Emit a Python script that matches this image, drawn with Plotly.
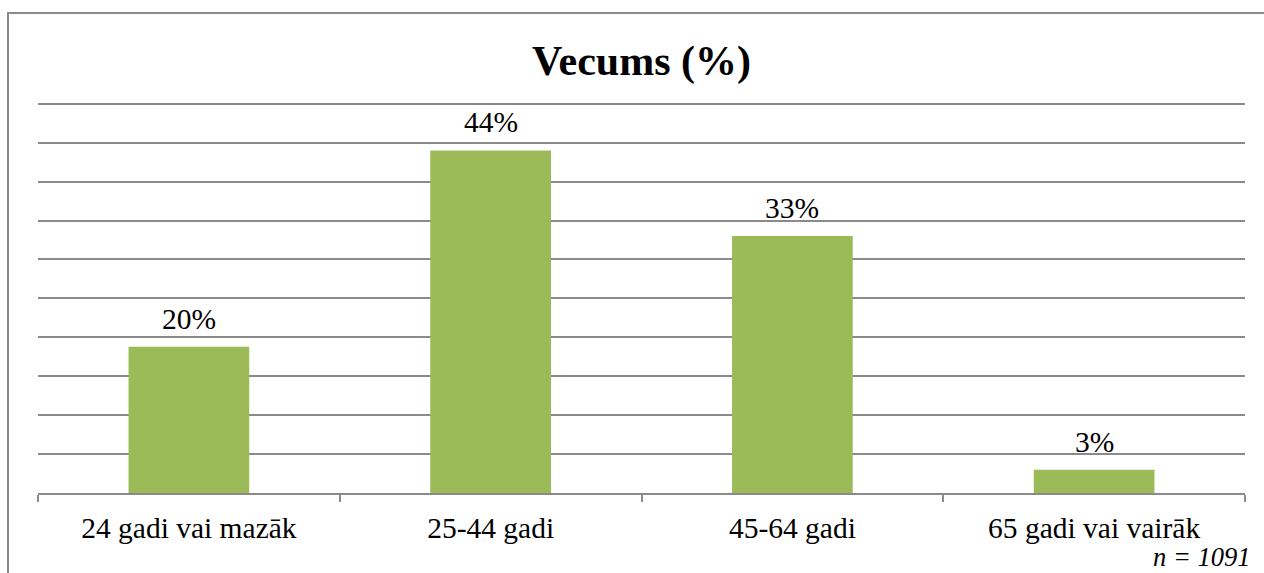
import plotly.graph_objects as go

categories = ["24 gadi vai mazāk", "25-44 gadi", "45-64 gadi", "65 gadi vai vairāk"]
values = [18.8, 44, 33, 3]
labels = ["20%", "44%", "33%", "3%"]
title_text = "Vecums (%)"
note_text = "n = 1091"

SERIF = "Liberation Serif, Times New Roman, serif"
GRID = "#8a8a8a"
BAR = "#9BBB59"

W, H = 1264, 573
YMAX = 51
ML, MR, MB = 38, 19, 79.5
MT = 103.5 - 7.8 * (YMAX - 50)
pw = W - ML - MR
ph = H - MT - MB

fig = go.Figure()
fig.add_trace(go.Bar(
    x=categories, y=values, width=0.4,
    marker=dict(color=BAR, line=dict(width=0)),
    hoverinfo="skip",
))

for c, v, t in zip(categories, values, labels):
    fig.add_annotation(x=c, y=v, xref="x", yref="y", text=t, showarrow=False,
                       yanchor="bottom", yshift=10,
                       font=dict(family=SERIF, size=29.5, color="black"))

fig.update_layout(
    width=W, height=H,
    margin=dict(l=ML, r=MR, t=MT, b=MB, pad=0),
    paper_bgcolor="white", plot_bgcolor="white",
    showlegend=False,
    bargap=0.6,
    title=dict(text="<b>%s</b>" % title_text, x=0.5, xref="paper", xanchor="center",
               y=1 - 60 / H, yref="container", yanchor="middle",
               font=dict(family=SERIF, size=42, color="black")),
    font=dict(family=SERIF, color="black"),
)

fig.update_xaxes(
    type="category",
    showline=True, linecolor=GRID, linewidth=1.6,
    ticks="outside", tickson="boundaries", ticklen=7, tickcolor=GRID, tickwidth=1.6,
    ticklabelstandoff=8,
    tickfont=dict(family=SERIF, size=29.5, color="black"),
    showgrid=False, zeroline=False,
)
fig.update_yaxes(
    range=[0, YMAX], dtick=5, tick0=0,
    showgrid=True, gridcolor=GRID, gridwidth=1.6,
    showticklabels=False, ticks="", zeroline=False, showline=False,
)

# chart border (extends beyond the captured window on right and bottom)
fig.add_shape(type="rect", xref="paper", yref="paper",
              x0=(8 - ML) / pw, x1=(W + 40 - ML) / pw,
              y0=-(MB + 40) / ph, y1=1 + (MT - 12.5) / ph,
              line=dict(color=GRID, width=2), fillcolor="rgba(0,0,0,0)", layer="below")

fig.add_annotation(text="<i>%s</i>" % note_text, xref="paper", yref="paper",
                   x=(1252 - ML) / pw, xanchor="right",
                   y=-(MB + 2) / ph, yanchor="bottom",
                   showarrow=False, font=dict(family=SERIF, size=26.5, color="black"))

fig.write_html("out.html", config={"displayModeBar": False},
               post_script="document.body.style.margin='0';")
